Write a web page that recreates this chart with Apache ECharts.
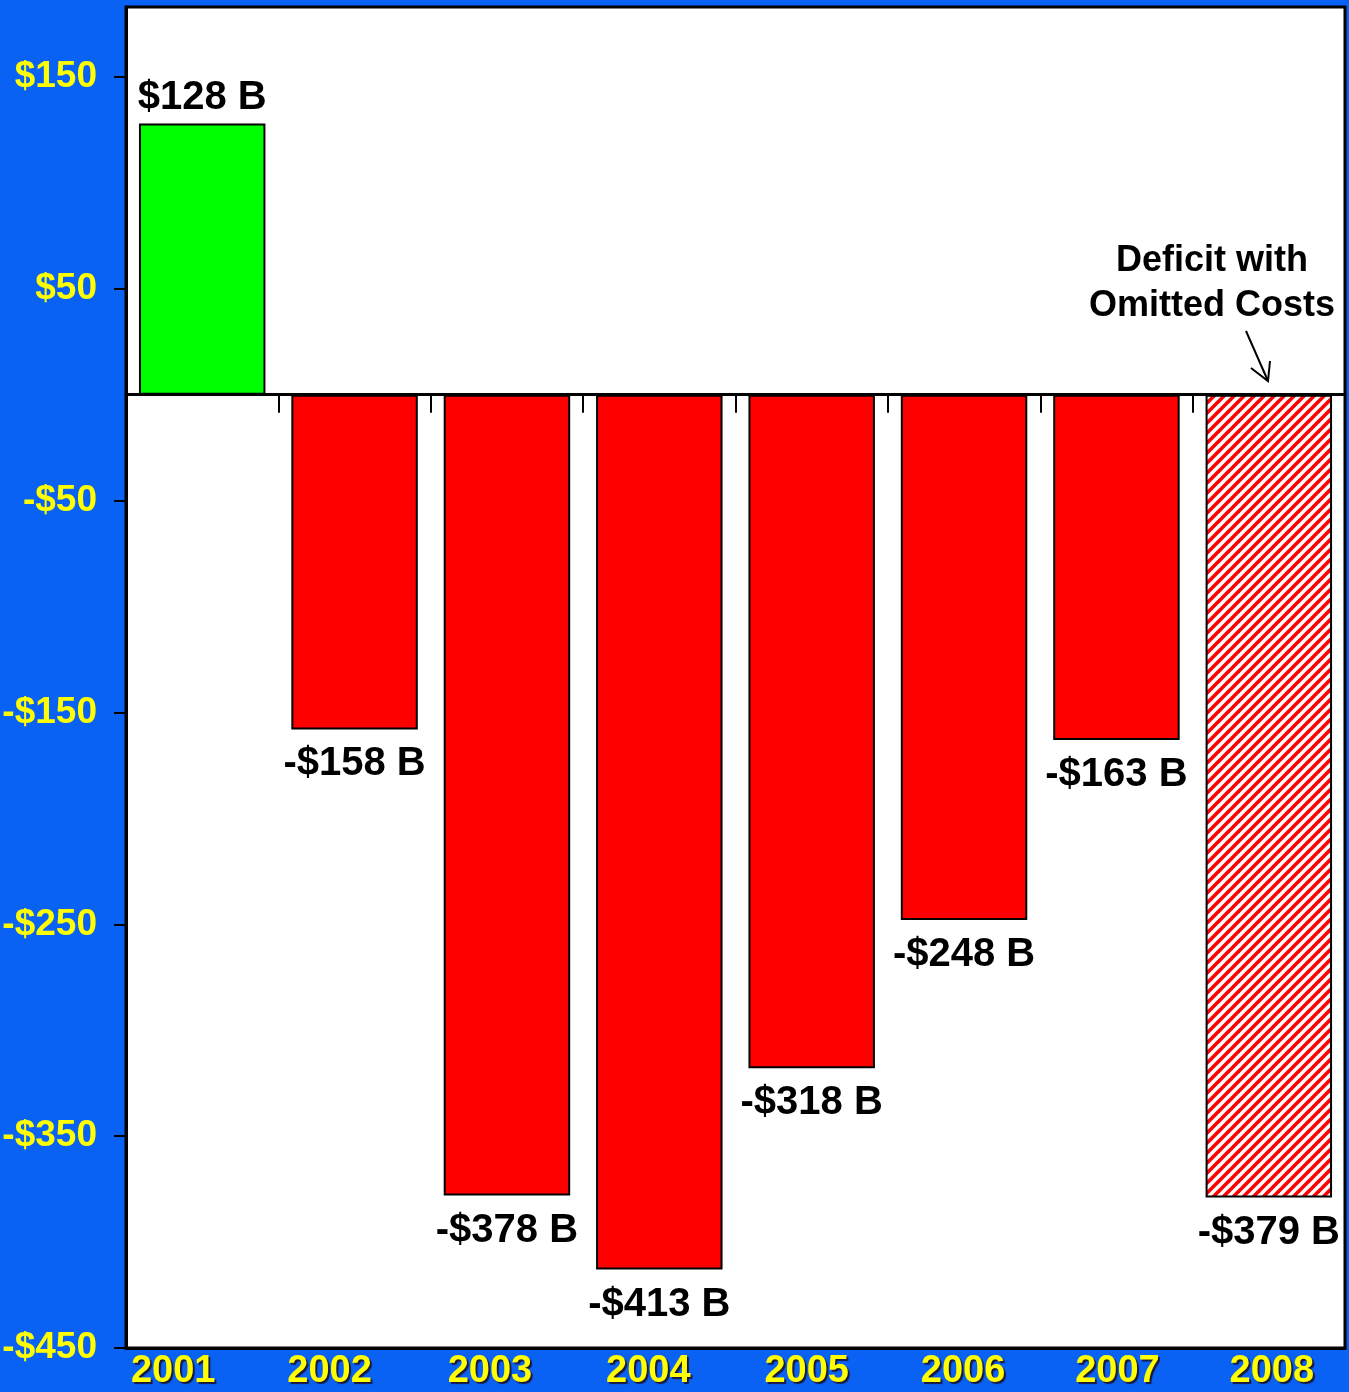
<!DOCTYPE html>
<html>
<head>
<meta charset="utf-8">
<script src="https://cdn.jsdelivr.net/npm/echarts@6/dist/echarts.min.js"></script>
<style>
  html, body { margin: 0; padding: 0; background: #0a62f5; }
  #chart { width: 1349px; height: 1392px; }
</style>
</head>
<body>
<div id="chart"></div>
<script>
// data (billions of dollars)
const years = ["2001", "2002", "2003", "2004", "2005", "2006", "2007", "2008"];
const balance = [128, -158, -378, -413, -318, -248, -163, -379];
const yTickValues = [-450, -350, -250, -150, -50, 50, 150];
const hatchedYear = "2008";

// small horizontal nudges of the year labels (px), as in the original slide
const yearNudge = [-29, -25, -17, -11, -5, -1, 1, 3];

// red diagonal hatch for the 2008 bar
function makeHatch() {
  const c = document.createElement("canvas");
  c.width = 10;
  c.height = 10;
  const ctx = c.getContext("2d");
  ctx.fillStyle = "#fff";
  ctx.fillRect(0, 0, 10, 10);
  ctx.strokeStyle = "#ff0000";
  ctx.lineWidth = 3.6;
  [[-5, 5, 5, -5], [0, 10, 10, 0], [5, 15, 15, 5]].forEach(function (l) {
    ctx.beginPath();
    ctx.moveTo(l[0], l[1]);
    ctx.lineTo(l[2], l[3]);
    ctx.stroke();
  });
  return c;
}

function money(v) {
  return v < 0 ? "-$" + (-v) : "$" + v;
}

var myChart = echarts.init(document.getElementById("chart"));
const hatch = makeHatch();

const barData = balance.map(function (v, i) {
  let item = {
    value: v,
    itemStyle: { color: v >= 0 ? "#00ff00" : "#ff0000" },
    label: { position: v >= 0 ? "top" : "bottom", distance: v >= 0 ? 6 : 15 },
  };
  if (years[i] === hatchedYear) {
    item.itemStyle.color = { image: hatch, repeat: "repeat" };
  }
  return item;
});

const yearFont = {
  color: "#ffff00",
  fontFamily: "Arial, 'Liberation Sans', sans-serif",
  fontWeight: "bold",
  fontSize: 38,
  textShadowColor: "#1a1a40",
  textShadowOffsetX: 2,
  textShadowOffsetY: 2,
  textShadowBlur: 1,
};
const yearRich = {};
yearNudge.forEach(function (d, i) {
  yearRich["y" + i] = Object.assign({}, yearFont, {
    padding: d < 0 ? [0, -2 * d, 0, 0] : [0, 0, 0, 2 * d],
  });
});

var option = {
  backgroundColor: "#0a62f5",
  animation: false,
  grid: {
    left: 126,
    right: 4,
    top: 7,
    bottom: 44,
    containLabel: false,
    outerBoundsMode: "none",
    show: true,
    backgroundColor: "#ffffff",
    borderColor: "#000",
    borderWidth: 3,
  },
  xAxis: [
    {
      // axis on the zero line, ticks between years
      type: "category",
      data: years,
      axisLine: { onZero: true, lineStyle: { color: "#000", width: 3 } },
      axisTick: { show: true, alignWithLabel: false, length: 18, lineStyle: { color: "#000", width: 2 } },
      axisLabel: { show: false },
    },
    {
      // year labels along the bottom
      type: "category",
      data: years,
      position: "bottom",
      axisLine: { onZero: false, lineStyle: { color: "#000", width: 3 } },
      axisTick: { show: false },
      axisLabel: Object.assign({}, yearFont, {
        margin: 5,
        interval: 0,
        formatter: function (val, idx) {
          return "{y" + idx + "|" + val + "}";
        },
        rich: yearRich,
      }),
    },
  ],
  yAxis: {
    type: "value",
    min: -450,
    max: 183,
    splitLine: { show: false },
    axisLine: { show: true, lineStyle: { color: "#000", width: 3 } },
    axisTick: { show: true, length: 12, customValues: yTickValues, lineStyle: { color: "#000", width: 2 } },
    axisLabel: {
      customValues: yTickValues,
      margin: 29,
      color: "#ffff00",
      fontFamily: "Arial, 'Liberation Sans', sans-serif",
      fontWeight: "bold",
      fontSize: 37,
      formatter: money,
    },
  },
  series: [
    {
      type: "bar",
      xAxisIndex: 0,
      data: barData,
      barWidth: "83%",
      itemStyle: { borderColor: "#000", borderWidth: 2 },
      label: {
        show: true,
        color: "#000",
        fontFamily: "Arial, 'Liberation Sans', sans-serif",
        fontWeight: "bold",
        fontSize: 40,
        formatter: function (p) {
          return money(p.value) + " B";
        },
      },
    },
  ],
  graphic: [
    {
      type: "text",
      x: 1212,
      y: 239,
      style: {
        text: "Deficit with\nOmitted Costs",
        align: "center",
        verticalAlign: "top",
        fill: "#000",
        font: "bold 36px Arial, 'Liberation Sans', sans-serif",
        lineHeight: 45,
      },
    },
    {
      type: "group",
      children: [
        { type: "line", shape: { x1: 1246, y1: 331, x2: 1268, y2: 381 }, style: { stroke: "#000", lineWidth: 2 } },
        { type: "polyline", shape: { points: [[1251, 368], [1268, 381], [1270, 361]] }, style: { stroke: "#000", lineWidth: 2, fill: null } },
      ],
    },
  ],
};

option && myChart.setOption(option, true);
</script>
</body>
</html>
